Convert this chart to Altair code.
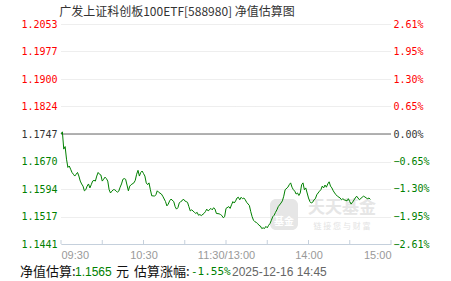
import altair as alt
import pandas as pd

TITLE = "广发上证科创板100ETF[588980] 净值估算图"
BASE_NAV = 1.1747

# trading minutes since 09:30 (11:30 and 13:00 are both minute 120)
MINUTES = [0, 1, 2, 3, 4, 5, 6, 7, 8, 9, 10, 11, 12, 13, 14, 15, 16, 17, 18, 19,
           20, 21, 22, 23, 24, 25, 26, 27, 28, 29, 30, 31, 32, 33, 34, 35, 36, 37, 38, 39,
           40, 41, 42, 43, 44, 45, 46, 47, 48, 49, 50, 51, 53, 54, 55, 56, 57, 58, 59, 60,
           61, 62, 63, 64, 65, 66, 67, 68, 69, 70, 71, 73, 74, 76, 77, 78, 79, 80, 82, 83,
           84, 85, 86, 87, 88, 89, 90, 91, 92, 93, 94, 95, 96, 97, 98, 99, 100, 101, 102, 104,
           105, 106, 107, 109, 110, 111, 112, 113, 115, 116, 117, 118, 119, 120, 122, 123, 124, 125, 126, 127,
           128, 129, 130, 131, 132, 133, 134, 135, 137, 138, 139, 140, 141, 142, 143, 144, 145, 146, 147, 148,
           149, 150, 151, 152, 153, 154, 155, 156, 157, 158, 160, 161, 162, 163, 165, 166, 167, 168, 169, 170,
           171, 172, 173, 174, 175, 176, 177, 178, 179, 180, 181, 182, 183, 184, 185, 186, 188, 189, 190, 191,
           192, 193, 194, 195, 196, 197, 198, 199, 200, 201, 203, 204, 205, 206, 208, 209, 210, 211, 212, 214,
           215, 216, 217, 219, 220, 221, 222, 223, 224, 225]

NAV = [1.1747, 1.1753, 1.1705, 1.1712, 1.1677, 1.1654, 1.1658, 1.1649, 1.1640, 1.1635,
       1.1630, 1.1635, 1.1640, 1.1630, 1.1616, 1.1608, 1.1602, 1.1589, 1.1592, 1.1602,
       1.1608, 1.1597, 1.1606, 1.1616, 1.1618, 1.1616, 1.1630, 1.1640, 1.1635, 1.1633,
       1.1616, 1.1621, 1.1627, 1.1623, 1.1616, 1.1592, 1.1583, 1.1588, 1.1592, 1.1592,
       1.1589, 1.1585, 1.1588, 1.1599, 1.1608, 1.1621, 1.1623, 1.1621, 1.1605, 1.1589,
       1.1602, 1.1606, 1.1611, 1.1618, 1.1635, 1.1646, 1.1630, 1.1640, 1.1644, 1.1637,
       1.1630, 1.1611, 1.1606, 1.1611, 1.1592, 1.1575, 1.1575, 1.1574, 1.1578, 1.1589,
       1.1585, 1.1580, 1.1574, 1.1559, 1.1547, 1.1552, 1.1561, 1.1566, 1.1559, 1.1545,
       1.1538, 1.1542, 1.1555, 1.1559, 1.1561, 1.1566, 1.1561, 1.1559, 1.1557, 1.1545,
       1.1533, 1.1536, 1.1533, 1.1529, 1.1526, 1.1529, 1.1521, 1.1523, 1.1520, 1.1526,
       1.1531, 1.1538, 1.1533, 1.1540, 1.1536, 1.1542, 1.1538, 1.1526, 1.1525, 1.1523,
       1.1520, 1.1514, 1.1517, 1.1540, 1.1545, 1.1540, 1.1550, 1.1559, 1.1555, 1.1561,
       1.1569, 1.1571, 1.1564, 1.1571, 1.1567, 1.1569, 1.1564, 1.1557, 1.1548, 1.1531,
       1.1517, 1.1507, 1.1503, 1.1501, 1.1498, 1.1493, 1.1491, 1.1484, 1.1486, 1.1484,
       1.1490, 1.1486, 1.1493, 1.1498, 1.1507, 1.1517, 1.1521, 1.1529, 1.1536, 1.1545,
       1.1555, 1.1561, 1.1574, 1.1592, 1.1599, 1.1606, 1.1611, 1.1599, 1.1592, 1.1588,
       1.1580, 1.1583, 1.1576, 1.1583, 1.1606, 1.1611, 1.1592, 1.1597, 1.1583, 1.1569,
       1.1559, 1.1555, 1.1557, 1.1564, 1.1567, 1.1578, 1.1588, 1.1592, 1.1602, 1.1597,
       1.1605, 1.1599, 1.1608, 1.1614, 1.1602, 1.1597, 1.1589, 1.1583, 1.1578, 1.1574,
       1.1569, 1.1564, 1.1567, 1.1564, 1.1561, 1.1567, 1.1559, 1.1552, 1.1557, 1.1569,
       1.1574, 1.1569, 1.1564, 1.1571, 1.1574, 1.1572, 1.1569, 1.1567, 1.1569, 1.1565]

NAV_TICKS = [1.1441, 1.1517, 1.1594, 1.1670, 1.1747, 1.1824, 1.1900, 1.1977, 1.2053]
PCT_TICKS = [-2.61, -1.95, -1.30, -0.65, 0.00, 0.65, 1.30, 1.95, 2.61]
TIME_TICKS = [0, 30, 60, 90, 120, 150, 180, 210, 240]
TIME_LABEL_AT = [0, 60, 120, 180, 240]
TIME_LABELS = ["09:30", "10:30", "11:30/13:00", "14:00", "15:00"]

EST_NAV = "1.1565"
EST_PCT = "-1.55%"
EST_TIME = "2025-12-16 14:45"

RED = "#ff0000"
GREEN = "#008000"
DARK = "#333333"

df = pd.DataFrame({"m": MINUTES, "nav": NAV})
df["pct"] = (df["nav"] / BASE_NAV - 1) * 100

label_expr = " : ".join(
    f"datum.value == {v} ? '{t}'" for v, t in zip(TIME_LABEL_AT, TIME_LABELS)
) + " : ''"

x_axis = alt.Axis(values=TIME_TICKS, labelExpr=label_expr, labelFlush=True,
                  labelOverlap=False, labelColor="#999999", labelFont="Liberation Sans",
                  labelFontSize=11, domainColor="#c5d0dc", ticks=False, grid=False,
                  labelPadding=5, title=None)
X = alt.X("m:Q", scale=alt.Scale(domain=[0, 240], nice=False, zero=False), axis=x_axis)

nav_axis = alt.Axis(
    orient="left", values=NAV_TICKS, format=".4f", labelFont="DejaVu Sans Mono",
    labelFontSize=10, domain=False, ticks=False, labelPadding=4, grid=True,
    gridColor="#dddddd", gridDash=[1, 1], title=None,
    labelColor={"condition": [{"test": f"datum.value > {BASE_NAV + 0.00005}", "value": RED},
                              {"test": f"datum.value > {BASE_NAV - 0.00005}", "value": DARK}],
                "value": GREEN},
)
nav_scale = alt.Scale(domain=[NAV_TICKS[0], NAV_TICKS[-1]], nice=False, zero=False)

pct_axis = alt.Axis(
    orient="right", values=PCT_TICKS, labelExpr="format(datum.value, '.2f') + '%'",
    labelFont="DejaVu Sans Mono", labelFontSize=10, domain=False, ticks=False,
    labelPadding=2, grid=False, title=None,
    labelColor={"condition": [{"test": "datum.value > 0.001", "value": RED},
                              {"test": "datum.value > -0.001", "value": DARK}],
                "value": GREEN},
)
pct_scale = alt.Scale(domain=[PCT_TICKS[0], PCT_TICKS[-1]], nice=False, zero=False)

# watermark
wm_logo = alt.Chart(alt.Data(values=[{}])).mark_rect(
    color="#e6e6e6", cornerRadius=6).encode(
    x=alt.value(209), x2=alt.value(237), y=alt.value(175), y2=alt.value(206))
wm_logo_txt = alt.Chart(alt.Data(values=[{}])).mark_text(
    text="基金", color="#ffffff", font="Noto Sans CJK SC", fontSize=10, fontWeight="bold").encode(
    x=alt.value(223), y=alt.value(198))
wm_name = alt.Chart(alt.Data(values=[{}])).mark_text(
    text="天天基金", color="#e6e6e6", font="Noto Sans CJK SC", fontSize=17, fontWeight="bold").encode(
    x=alt.value(281), y=alt.value(184))
wm_slogan = alt.Chart(alt.Data(values=[{}])).mark_text(
    text="链 接 您 与 财 富", color="#e3e3e3", font="Noto Sans CJK SC", fontSize=8).encode(
    x=alt.value(281), y=alt.value(203))

tick_df = pd.DataFrame({"m": TIME_TICKS})
ticks = alt.Chart(tick_df).mark_rule(color="#c5d0dc").encode(
    x=X, y=alt.value(216), y2=alt.value(220))

base_df = pd.DataFrame({"nav": [BASE_NAV]})
baseline = alt.Chart(base_df).mark_rule(color="#999999", strokeWidth=1.5).encode(
    y=alt.Y("nav:Q", scale=nav_scale, axis=nav_axis))

line = alt.Chart(df).mark_line(color=GREEN, strokeWidth=1, interpolate="linear").encode(
    x=X, y=alt.Y("nav:Q", scale=nav_scale, axis=nav_axis))

inner = alt.layer(wm_logo, wm_logo_txt, wm_name, wm_slogan, baseline, ticks, line)

pct_layer = alt.Chart(df).mark_line(opacity=0).encode(
    x=X, y=alt.Y("pct:Q", scale=pct_scale, axis=pct_axis))

def txt(s, x, color, font, size, weight="normal"):
    return alt.Chart(alt.Data(values=[{}])).mark_text(
        text=s, align="left", baseline="middle", color=color, font=font,
        fontSize=size, fontWeight=weight).encode(x=alt.value(x), y=alt.value(248))

title = alt.Chart(alt.Data(values=[{}])).mark_text(
    text=TITLE, align="center", baseline="middle", color=DARK,
    font="Noto Sans CJK SC", fontSize=12).encode(x=alt.value(116), y=alt.value(-12))

footer = [
    txt("净值估算:", -41, "#111111", "Noto Sans CJK SC", 13),
    txt(EST_NAV, 14, GREEN, "Liberation Sans", 12),
    txt("元", 55, "#111111", "Noto Sans CJK SC", 13),
    txt("估算涨幅:", 73, "#111111", "Noto Sans CJK SC", 13),
    txt(EST_PCT, 130, GREEN, "DejaVu Sans Mono", 11),
    txt(EST_TIME, 171, "#666666", "Liberation Sans", 12),
]

chart = alt.layer(inner, pct_layer, title, *footer).resolve_scale(y="independent").properties(
    width=330, height=220,
    padding={"left": 61, "top": 24, "right": 60, "bottom": 37},
    autosize=alt.AutoSizeParams(type="none"),
    background="#ffffff",
).configure_view(stroke=None)

chart.save("out.html", embed_options={"renderer": "svg", "actions": False})
